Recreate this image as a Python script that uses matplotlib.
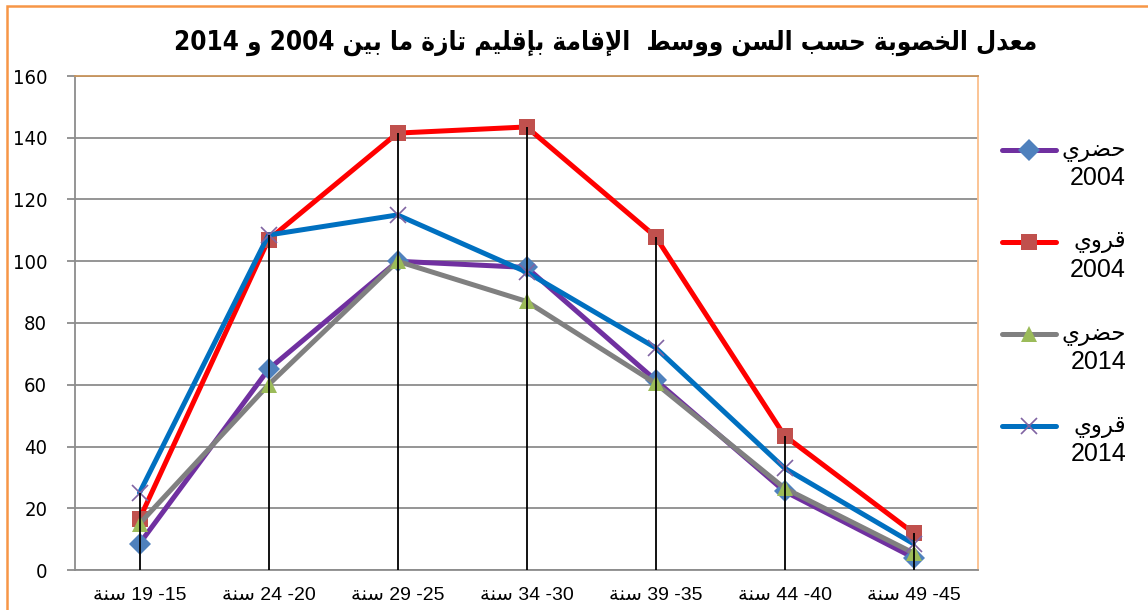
import re
import matplotlib
matplotlib.use("Agg")
from matplotlib import pyplot as plt
from matplotlib.lines import Line2D
from matplotlib.patches import Rectangle


ages = ["15- 19 سنة", "20- 24 سنة", "25- 29 سنة", "30- 34 سنة",
        "35- 39 سنة", "40- 44 سنة", "45- 49 سنة"]
urban_2004 = [8.5, 65, 100, 98, 61.5, 25.5, 4]
rural_2004 = [16.5, 107, 141.5, 143.5, 108, 43.5, 12]
urban_2014 = [15, 60, 100, 87, 60.5, 26.5, 5.5]
rural_2014 = [25, 108.5, 115, 96.5, 72, 33, 8.5]
series_names = ["حضري 2004", "قروي 2004", "حضري 2014", "قروي 2014"]
title = "معدل الخصوبة حسب السن ووسط  الإقامة بإقليم تازة ما بين 2004 و 2014"
yticks = [0, 20, 40, 60, 80, 100, 120, 140, 160]

# arabic presentation forms (iso, fin, ini, med) - matplotlib has no shaping
F = {
    "ء": ("\uFE80", None, None, None),
    "آ": ("\uFE81", "\uFE82", None, None),
    "أ": ("\uFE83", "\uFE84", None, None),
    "ؤ": ("\uFE85", "\uFE86", None, None),
    "إ": ("\uFE87", "\uFE88", None, None),
    "ئ": ("\uFE89", "\uFE8A", "\uFE8B", "\uFE8C"),
    "ا": ("\uFE8D", "\uFE8E", None, None),
    "ب": ("\uFE8F", "\uFE90", "\uFE91", "\uFE92"),
    "ة": ("\uFE93", "\uFE94", None, None),
    "ت": ("\uFE95", "\uFE96", "\uFE97", "\uFE98"),
    "ث": ("\uFE99", "\uFE9A", "\uFE9B", "\uFE9C"),
    "ج": ("\uFE9D", "\uFE9E", "\uFE9F", "\uFEA0"),
    "ح": ("\uFEA1", "\uFEA2", "\uFEA3", "\uFEA4"),
    "خ": ("\uFEA5", "\uFEA6", "\uFEA7", "\uFEA8"),
    "د": ("\uFEA9", "\uFEAA", None, None),
    "ذ": ("\uFEAB", "\uFEAC", None, None),
    "ر": ("\uFEAD", "\uFEAE", None, None),
    "ز": ("\uFEAF", "\uFEB0", None, None),
    "س": ("\uFEB1", "\uFEB2", "\uFEB3", "\uFEB4"),
    "ش": ("\uFEB5", "\uFEB6", "\uFEB7", "\uFEB8"),
    "ص": ("\uFEB9", "\uFEBA", "\uFEBB", "\uFEBC"),
    "ض": ("\uFEBD", "\uFEBE", "\uFEBF", "\uFEC0"),
    "ط": ("\uFEC1", "\uFEC2", "\uFEC3", "\uFEC4"),
    "ظ": ("\uFEC5", "\uFEC6", "\uFEC7", "\uFEC8"),
    "ع": ("\uFEC9", "\uFECA", "\uFECB", "\uFECC"),
    "غ": ("\uFECD", "\uFECE", "\uFECF", "\uFED0"),
    "ف": ("\uFED1", "\uFED2", "\uFED3", "\uFED4"),
    "ق": ("\uFED5", "\uFED6", "\uFED7", "\uFED8"),
    "ك": ("\uFED9", "\uFEDA", "\uFEDB", "\uFEDC"),
    "ل": ("\uFEDD", "\uFEDE", "\uFEDF", "\uFEE0"),
    "م": ("\uFEE1", "\uFEE2", "\uFEE3", "\uFEE4"),
    "ن": ("\uFEE5", "\uFEE6", "\uFEE7", "\uFEE8"),
    "ه": ("\uFEE9", "\uFEEA", "\uFEEB", "\uFEEC"),
    "و": ("\uFEED", "\uFEEE", None, None),
    "ى": ("\uFEEF", "\uFEF0", None, None),
    "ي": ("\uFEF1", "\uFEF2", "\uFEF3", "\uFEF4"),
}
LAMALEF = {"آ": ("\uFEF5", "\uFEF6"), "أ": ("\uFEF7", "\uFEF8"),
           "إ": ("\uFEF9", "\uFEFA"), "ا": ("\uFEFB", "\uFEFC")}


def shape(s):
    out = []
    i = 0
    while i < len(s):
        c = s[i]
        if c not in F:
            out.append(c)
            i += 1
            continue
        prev = s[i - 1] if i > 0 else ""
        p = prev in F and F[prev][2] is not None
        if c == "ل" and i + 1 < len(s) and s[i + 1] in LAMALEF:
            iso, fin = LAMALEF[s[i + 1]]
            out.append(fin if p else iso)
            i += 2
            continue
        nxt = s[i + 1] if i + 1 < len(s) else ""
        q = F[c][2] is not None and nxt in F
        iso, fin, ini, med = F[c]
        out.append(med if (p and q) else fin if p else ini if q else iso)
        i += 1
    return "".join(out)


def ar(s):
    t = shape(s)[::-1]
    return re.sub(r"[0-9]+", lambda m: m.group(0)[::-1], t)


W, H = 1148, 610
fig = plt.figure(figsize=(W / 100, H / 100), dpi=100)
ax = fig.add_axes([75 / W, 1 - 570 / H, 903 / W, 494 / H])

# outer orange frame
fig.add_artist(Rectangle((7 / W, -0.1), 1.2, 1 - 6 / H + 0.1, transform=fig.transFigure,
                         fill=False, edgecolor="#f79646", lw=1.8))

x = list(range(len(ages)))
styles = [
    (urban_2004, "#7030a0", "D", "#4f81bd", 11),
    (rural_2004, "#ff0000", "s", "#c0504d", 11),
    (urban_2014, "#808080", "^", "#9bbb59", 12),
    (rural_2014, "#0070c0", "x", "#8064a2", 11),
]
for vals, col, mk, mcol, ms in styles:
    ax.plot(x, vals, color=col, lw=3.6, marker=mk, markersize=ms,
            markerfacecolor=mcol, markeredgecolor=mcol, markeredgewidth=1.2 if mk == "x" else 0,
            solid_capstyle="round", zorder=3)

# drop lines
tops = [max(v) for v in zip(urban_2004, rural_2004, urban_2014, rural_2014)]
ax.vlines(x, 0, tops, color="black", lw=1.3, zorder=4)

ax.set_xlim(-0.5, 6.5)
ax.set_ylim(0, 160)
ax.set_yticks(yticks)
ax.yaxis.grid(True, color="#8c8c8c", lw=1.3)
ax.set_axisbelow(True)
for s in ["left", "bottom"]:
    ax.spines[s].set_color("#8c8c8c")
    ax.spines[s].set_linewidth(1.3)
ax.spines["top"].set_color("#c8945c")
ax.spines["right"].set_color("#fbbf8c")
ax.spines["top"].set_linewidth(1.3)
ax.spines["right"].set_linewidth(1.3)
ax.tick_params(axis="y", direction="out", length=6, width=1.3, color="#8c8c8c", pad=14)
ax.tick_params(axis="x", length=0, pad=12)
ax.set_yticklabels([str(v) for v in yticks], family="DejaVu Sans",
                   fontsize=14.5, fontstretch="condensed")
ax.set_xticks(x)
ax.set_xticklabels([ar(a) for a in ages], family=["Liberation Sans", "DejaVu Sans"], fontsize=14)

fig.text(606 / W, 1 - 43 / H, ar(title), ha="center", va="center", fontsize=18.6,
         fontweight="bold", family="DejaVu Sans", fontstretch="condensed")

# legend drawn by hand, label on two lines aligned right
for i, (vals, col, mk, mcol, ms) in enumerate(styles):
    y1 = 1 - (150 + 92 * i) / H
    fig.add_artist(Line2D([1002 / W, 1056 / W], [y1, y1], color=col, lw=3.6,
                          solid_capstyle="round", transform=fig.transFigure))
    fig.add_artist(Line2D([1029 / W], [y1], marker=mk, markersize=ms, color=mcol,
                          markeredgewidth=1.2 if mk == "x" else 0, transform=fig.transFigure))
    word, year = series_names[i].split(" ")
    fig.text(1126 / W, y1, ar(word), ha="right", va="center", fontsize=16.5,
             family=["Liberation Sans", "DejaVu Sans"])
    fig.text(1126 / W, y1 - 28 / H, year, ha="right", va="center", fontsize=18,
             family=["Liberation Sans", "DejaVu Sans"])

fig.savefig("out.png", dpi=100)
